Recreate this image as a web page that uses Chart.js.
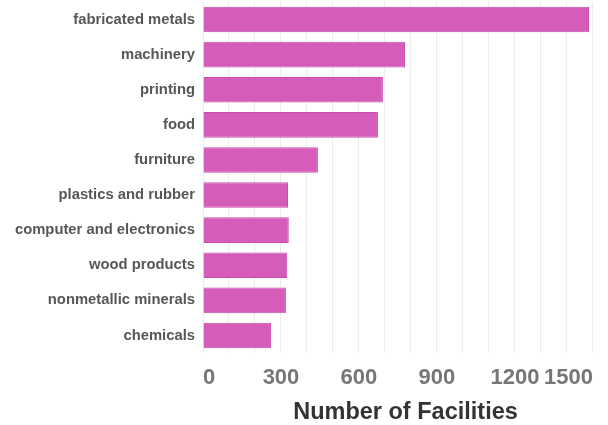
<!DOCTYPE html>
<html>
<head>
<meta charset="utf-8">
<script src="https://cdn.jsdelivr.net/npm/chart.js@4.4.0/dist/chart.umd.min.js"></script>
<style>
  html, body { margin: 0; padding: 0; background: #fff; }
  #wrap { width: 608px; height: 425px; position: relative; }
</style>
</head>
<body>
<div id="wrap"><canvas id="chart"></canvas></div>
<script>
const categories = ['fabricated metals', 'machinery', 'printing', 'food', 'furniture',
    'plastics and rubber', 'computer and electronics', 'wood products',
    'nonmetallic minerals', 'chemicals'];
const facilities = [1485, 777, 692, 673, 442, 327, 330, 324, 319, 262];
const tickLabels = [0, 300, 600, 900, 1200, 1500];

const fontFamily = "'Liberation Sans', Arial, sans-serif";

new Chart(document.getElementById('chart'), {
    type: 'bar',
    data: {
        labels: categories,
        datasets: [{
            label: 'Number of Facilities',
            data: facilities,
            backgroundColor: 'rgb(213, 92, 185)',
            borderColor: 'rgb(198, 78, 170)',
            borderWidth: 1,
            categoryPercentage: 1,
            barPercentage: 0.73
        }]
    },
    options: {
        indexAxis: 'y',
        responsive: true,
        maintainAspectRatio: false,
        animation: false,
        layout: { padding: { top: 2, right: 0, left: 0, bottom: 0 } },
        plugins: {
            legend: { display: false },
            tooltip: { enabled: false }
        },
        scales: {
            x: {
                min: 0,
                max: 1558, // axis runs a bit past the last grid line
                grid: { color: '#ececec', drawTicks: false },
                border: { display: false },
                ticks: {
                    stepSize: 100,
                    includeBounds: false,
                    autoSkip: false,
                    maxRotation: 0,
                    align: 'inner',
                    padding: 12,
                    color: '#767676',
                    font: { family: fontFamily, size: 22, weight: 'bold' },
                    callback: (v) => tickLabels.includes(v) ? String(v) : ''
                },
                title: {
                    display: true,
                    text: 'Number of Facilities',
                    color: '#333',
                    padding: { top: 0, bottom: 0 },
                    font: { family: fontFamily, size: 23.5, weight: 'bold', lineHeight: 1.1 }
                },
                afterFit: (scale) => {
                    scale.height = 72;
                    scale.paddingLeft = 0;
                    scale.paddingRight = 0;
                }
            },
            y: {
                grid: { display: false, drawTicks: false },
                border: { display: false },
                ticks: {
                    padding: 8,
                    color: '#575757',
                    font: { family: fontFamily, size: 14.8, weight: 'bold' }
                },
                afterFit: (scale) => {
                    scale.width = 203;
                    scale.paddingTop = 0;
                    scale.paddingBottom = 0;
                }
            }
        }
    }
});
</script>
</body>
</html>
